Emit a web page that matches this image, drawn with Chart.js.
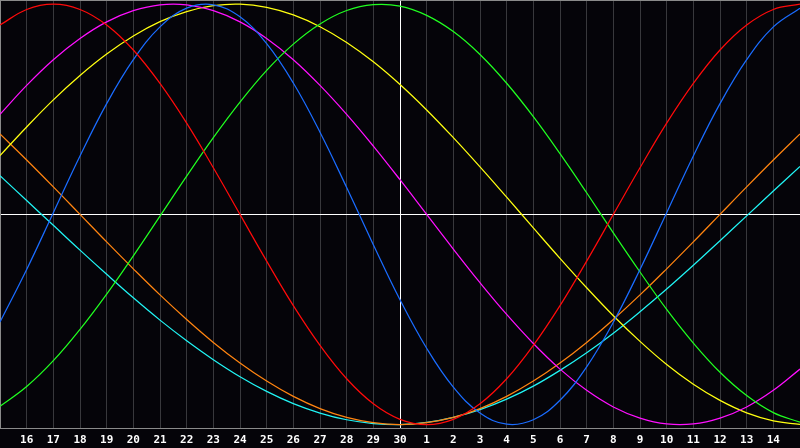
<!DOCTYPE html>
<html>
<head>
<meta charset="utf-8">
<script src="https://cdn.jsdelivr.net/npm/chart.js@4/dist/chart.umd.min.js"></script>
<style>
  html, body { margin: 0; padding: 0; background: #050409; }
  #wrap { width: 800px; height: 448px; }
</style>
</head>
<body>
<div id="wrap"><canvas id="bioChart"></canvas></div>
<script>
// day labels, 15th of one month to 15th of the next
const dayLabels = ["15", "16", "17", "18", "19", "20", "21", "22", "23", "24", "25", "26", "27", "28", "29", "30",
  "1", "2", "3", "4", "5", "6", "7", "8", "9", "10", "11", "12", "13", "14", "15"];

// cycle values in percent, one per day
const redValues = [90.1, 97.5, 100, 97.5, 90.1, 78.2, 62.3, 43.4, 22.2, 0, -22.2, -43.4, -62.3, -78.2, -90.1, -97.5,
  -100, -97.5, -90.1, -78.2, -62.3, -43.4, -22.2, 0, 22.2, 43.4, 62.3, 78.2, 90.1, 97.5, 100];
const blueValues = [-51.2, -26.2, 0.8, 27.8, 52.7, 73.6, 89.2, 98.1, 99.7, 94.0, 81.2, 62.5, 39.1, 12.8, -14.4, -40.6,
  -63.7, -82.2, -94.5, -99.8, -97.7, -88.4, -72.5, -51.3, -26.2, 0.8, 27.8, 52.7, 73.6, 89.2, 98.1];
const greenValues = [-91.3, -81.9, -69.6, -54.7, -37.9, -19.7, -0.8, 18.2, 36.5, 53.4, 68.5, 81.0, 90.6, 97.0, 99.8, 99.1,
  94.7, 87.0, 76.1, 62.4, 46.5, 28.9, 10.3, -8.8, -27.4, -45.2, -61.2, -75.1, -86.2, -94.3, -98.9];
const magentaValues = [47.6, 61.4, 73.6, 83.7, 91.6, 96.9, 99.7, 99.7, 96.9, 91.6, 83.7, 73.6, 61.4, 47.6, 32.5, 16.5,
  0, -16.5, -32.5, -47.6, -61.4, -73.6, -83.7, -91.6, -96.9, -99.7, -99.7, -96.9, -91.6, -83.7, -73.6];
const yellowValues = [28.0, 41.6, 54.5, 66.1, 76.3, 84.9, 91.7, 96.5, 99.3, 100.0, 98.5, 94.9, 89.3, 81.8, 72.6, 61.8,
  49.7, 36.5, 22.6, 8.2, -6.4, -20.9, -34.9, -48.2, -60.4, -71.4, -80.8, -88.5, -94.4, -98.2, -99.9];
const orangeValues = [38.3, 25.9, 13.1, 0, -13.1, -25.9, -38.3, -50, -60.9, -70.7, -79.3, -86.6, -92.4, -96.6, -99.1, -100,
  -99.1, -96.6, -92.4, -86.6, -79.3, -70.7, -60.9, -50, -38.3, -25.9, -13.1, 0, 13.1, 25.9, 38.3];
const cyanValues = [18.4, 6.6, -5.2, -17.0, -28.5, -39.7, -50.3, -60.1, -69.1, -77.2, -84.2, -90.0, -94.5, -97.7, -99.5, -100.0,
  -99.0, -96.6, -92.9, -87.9, -81.7, -74.2, -65.8, -56.5, -46.3, -35.5, -24.2, -12.5, -0.7, 11.1, 22.8];

const seriesColors = ["#ff0a0a", "#1a6cff", "#20ff20", "#ff10ff", "#ffff10", "#ff8410", "#20f4f4"];

function makeLine(values, color) {
  return {
    data: values,
    borderColor: color,
    borderWidth: 1.25,
    pointRadius: 0,
    tension: 0.4,
    fill: false,
  };
}

const ctx = document.getElementById("bioChart").getContext("2d");
new Chart(ctx, {
  type: "line",
  data: {
    labels: dayLabels,
    datasets: [
      makeLine(redValues, seriesColors[0]),
      makeLine(blueValues, seriesColors[1]),
      makeLine(greenValues, seriesColors[2]),
      makeLine(magentaValues, seriesColors[3]),
      makeLine(yellowValues, seriesColors[4]),
      makeLine(orangeValues, seriesColors[5]),
      makeLine(cyanValues, seriesColors[6]),
    ],
  },
  options: {
    responsive: true,
    maintainAspectRatio: false,
    animation: false,
    layout: { padding: { left: 0, right: 0, top: 0, bottom: -4 } },
    plugins: {
      legend: { display: false },
      tooltip: { enabled: false },
    },
    scales: {
      x: {
        type: "category",
        offset: false,
        // edge labels are blank, so no side padding is needed
        afterFit: (scale) => {
          scale.paddingLeft = 0;
          scale.paddingRight = 0;
        },
        grid: {
          drawTicks: false,
          color: (c) => (c.index === 15 ? "#ffffff" : "#38383c"),
        },
        border: { display: true, color: "#8a8a8a" },
        ticks: {
          autoSkip: false,
          maxRotation: 0,
          padding: 5,
          color: "#ffffff",
          font: { family: "DejaVu Sans Mono", size: 11, weight: "bold" },
          callback: function (val, i) {
            if (i === 0 || i === dayLabels.length - 1) return "";
            return this.getLabelForValue(val);
          },
        },
      },
      y: {
        min: -102,
        max: 102,
        afterBuildTicks: (axis) => {
          axis.ticks = [{ value: -102 }, { value: 0 }, { value: 102 }];
        },
        grid: {
          drawTicks: false,
          color: (c) =>
            c.tick.value === 0 ? "#ffffff" : c.tick.value === 102 ? "#8a8a8a" : "rgba(0,0,0,0)",
        },
        border: { display: true, color: "#8a8a8a" },
        ticks: { display: false },
      },
    },
  },
});
</script>
</body>
</html>
